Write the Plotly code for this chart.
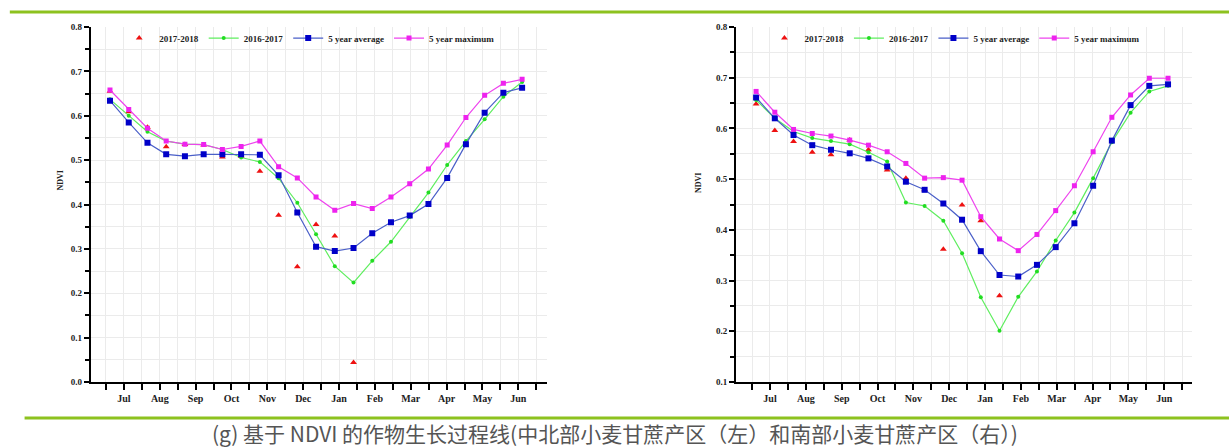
import plotly.graph_objects as go

# 23 composites per season, Jul -> Jun
months = ["Jul", "Aug", "Sep", "Oct", "Nov", "Dec", "Jan", "Feb", "Mar", "Apr", "May", "Jun"]
idx = list(range(23))
N = None

# left panel: north-central wheat / sugarcane zone
left_1718 = [0.655, 0.609, 0.574, 0.530, 0.535, 0.534, 0.507, 0.509, 0.475, 0.376, 0.260, 0.355,
             0.329, 0.044, N, N, N, N, N, N, N, N, N]
left_1617 = [0.637, 0.600, 0.564, 0.543, 0.536, 0.535, 0.524, 0.506, 0.496, 0.459, 0.404, 0.333,
             0.261, 0.224, 0.273, 0.316, 0.372, 0.427, 0.489, 0.543, 0.592, 0.643, 0.676]
left_avg = [0.634, 0.585, 0.539, 0.513, 0.509, 0.513, 0.513, 0.513, 0.512, 0.466, 0.382, 0.305,
            0.295, 0.302, 0.335, 0.360, 0.375, 0.401, 0.460, 0.536, 0.607, 0.652, 0.663]
left_max = [0.658, 0.614, 0.572, 0.543, 0.536, 0.535, 0.524, 0.531, 0.543, 0.485, 0.460, 0.417,
            0.387, 0.402, 0.391, 0.417, 0.447, 0.480, 0.534, 0.596, 0.646, 0.673, 0.682]

# right panel: southern wheat / sugarcane zone
right_1718 = [0.648, 0.596, 0.574, 0.553, 0.548, 0.577, 0.558, 0.518, 0.502, 0.479, 0.362, 0.449,
              0.418, 0.270, N, N, N, N, N, N, N, N, N]
right_1617 = [0.656, 0.620, 0.594, 0.581, 0.575, 0.569, 0.553, 0.535, 0.454, 0.447, 0.418, 0.354,
              0.267, 0.201, 0.268, 0.318, 0.379, 0.434, 0.502, 0.573, 0.631, 0.673, 0.684]
right_avg = [0.661, 0.620, 0.587, 0.567, 0.558, 0.551, 0.541, 0.525, 0.495, 0.479, 0.452, 0.420,
             0.358, 0.311, 0.308, 0.331, 0.366, 0.413, 0.487, 0.576, 0.646, 0.684, 0.687]
right_max = [0.673, 0.632, 0.598, 0.590, 0.585, 0.577, 0.567, 0.554, 0.531, 0.502, 0.503, 0.498,
             0.426, 0.382, 0.359, 0.391, 0.438, 0.487, 0.554, 0.622, 0.666, 0.699, 0.699]

GREEN_BAR = "#8dc21f"
SERIF = "Liberation Serif"

fig = go.Figure()


def add_series(xa, ya, leg, s1718, s1617, savg, smax):
    fig.add_trace(go.Scatter(x=idx, y=s1718, name="2017-2018", mode="markers",
                             marker=dict(symbol="triangle-up", size=6, color="#ee1111"),
                             xaxis=xa, yaxis=ya, legend=leg))
    fig.add_trace(go.Scatter(x=idx, y=s1617, name="2016-2017", mode="lines+markers",
                             line=dict(color="#5fee5f", width=1.2),
                             marker=dict(symbol="circle", size=4, color="#22dd22"),
                             xaxis=xa, yaxis=ya, legend=leg))
    fig.add_trace(go.Scatter(x=idx, y=savg, name="5 year average", mode="lines+markers",
                             line=dict(color="#4a5fc8", width=1.2),
                             marker=dict(symbol="square", size=6, color="#0000c8"),
                             xaxis=xa, yaxis=ya, legend=leg))
    fig.add_trace(go.Scatter(x=idx, y=smax, name="5 year maximum", mode="lines+markers",
                             line=dict(color="#ee44ee", width=1.2),
                             marker=dict(symbol="square", size=5, color="#ee22ee"),
                             xaxis=xa, yaxis=ya, legend=leg))


add_series("x", "y", "legend", left_1718, left_1617, left_avg, left_max)
add_series("x2", "y2", "legend2", right_1718, right_1617, right_avg, right_max)

# ticks every half month (minor), month names on every other tick (major)
TICK0, TICKSTEP = -0.214, 0.957
month_pos = [TICK0 + TICKSTEP * (2 * m + 1) for m in range(12)]

tick_font = dict(family=SERIF, size=10, color="#222", weight="bold")


def xaxis(domain, rng, anchor):
    return dict(domain=domain, range=rng, anchor=anchor, tickvals=month_pos, ticktext=months,
                showline=True, linecolor="black", linewidth=2, ticks="outside", ticklen=6,
                tickwidth=1.5, tickcolor="black", showgrid=True, gridcolor="#ebebeb",
                gridwidth=1, zeroline=False, tickfont=tick_font, automargin=False,
                minor=dict(tick0=TICK0, dtick=TICKSTEP, ticks="outside", ticklen=6,
                           tickwidth=1.5, tickcolor="black", showgrid=True,
                           gridcolor="#ebebeb"))


def yaxis(rng, anchor):
    return dict(domain=[0.1473, 0.9397], range=rng, anchor=anchor, dtick=0.1, tickformat=".1f",
                showline=True, linecolor="black", linewidth=2, ticks="outside", ticklen=5,
                tickwidth=1.5, tickcolor="black", showgrid=True, gridcolor="#ebebeb",
                zeroline=False, tickfont=dict(family=SERIF, size=9, color="#222", weight="bold"),
                minor=dict(dtick=0.05, ticks="outside", ticklen=4, tickcolor="black",
                           showgrid=True, gridcolor="#ebebeb"),
                automargin=False)


leg_font = dict(family=SERIF, size=9, color="#222", weight="bold")

fig.update_layout(
    width=1229, height=448,
    margin=dict(l=0, r=0, t=0, b=0),
    paper_bgcolor="white", plot_bgcolor="white",
    xaxis=xaxis([0.0738, 0.4451], [-1.03, 23.33], "y"),
    yaxis=yaxis([0, 0.8], "x"),
    xaxis2=xaxis([0.5989, 0.9699], [-1.07, 23.28], "y2"),
    yaxis2=yaxis([0.1, 0.8], "x2"),
    legend=dict(orientation="h", x=0.252, xanchor="center", y=0.915, yanchor="middle",
                bgcolor="rgba(0,0,0,0)", font=leg_font, itemwidth=30, tracegroupgap=0),
    legend2=dict(orientation="h", x=0.777, xanchor="center", y=0.915, yanchor="middle",
                 bgcolor="rgba(0,0,0,0)", font=leg_font, itemwidth=30, tracegroupgap=0),
    showlegend=True,
    shapes=[
        dict(type="line", xref="paper", yref="paper", x0=0.008, x1=1, y0=0.973, y1=0.973,
             line=dict(color=GREEN_BAR, width=3)),
        dict(type="line", xref="paper", yref="paper", x0=0.02, x1=1, y0=0.067, y1=0.067,
             line=dict(color=GREEN_BAR, width=3)),
    ],
    annotations=[
        dict(text="NDVI", textangle=-90, x=53 / 1229, y=1 - 181 / 448, xref="paper", yref="paper",
             showarrow=False, font=dict(family=SERIF, size=8, color="#222", weight="bold")),
        dict(text="NDVI", textangle=-90, x=699 / 1229, y=1 - 183 / 448, xref="paper", yref="paper",
             showarrow=False, font=dict(family=SERIF, size=8, color="#222", weight="bold")),
        dict(text="(g) 基于 NDVI 的作物生长过程线(中北部小麦甘蔗产区（左）和南部小麦甘蔗产区（右）)",
             x=0.5, y=1 - 433 / 448, xref="paper", yref="paper", showarrow=False,
             xanchor="center", yanchor="middle",
             font=dict(family="Noto Sans CJK SC", size=21, color="#555")),
    ],
)

# drop the browser's default 8px body margin so the figure sits at the page origin
fig.write_html("out.html", config={"displayModeBar": False},
               post_script="document.body.style.margin = '0';")
